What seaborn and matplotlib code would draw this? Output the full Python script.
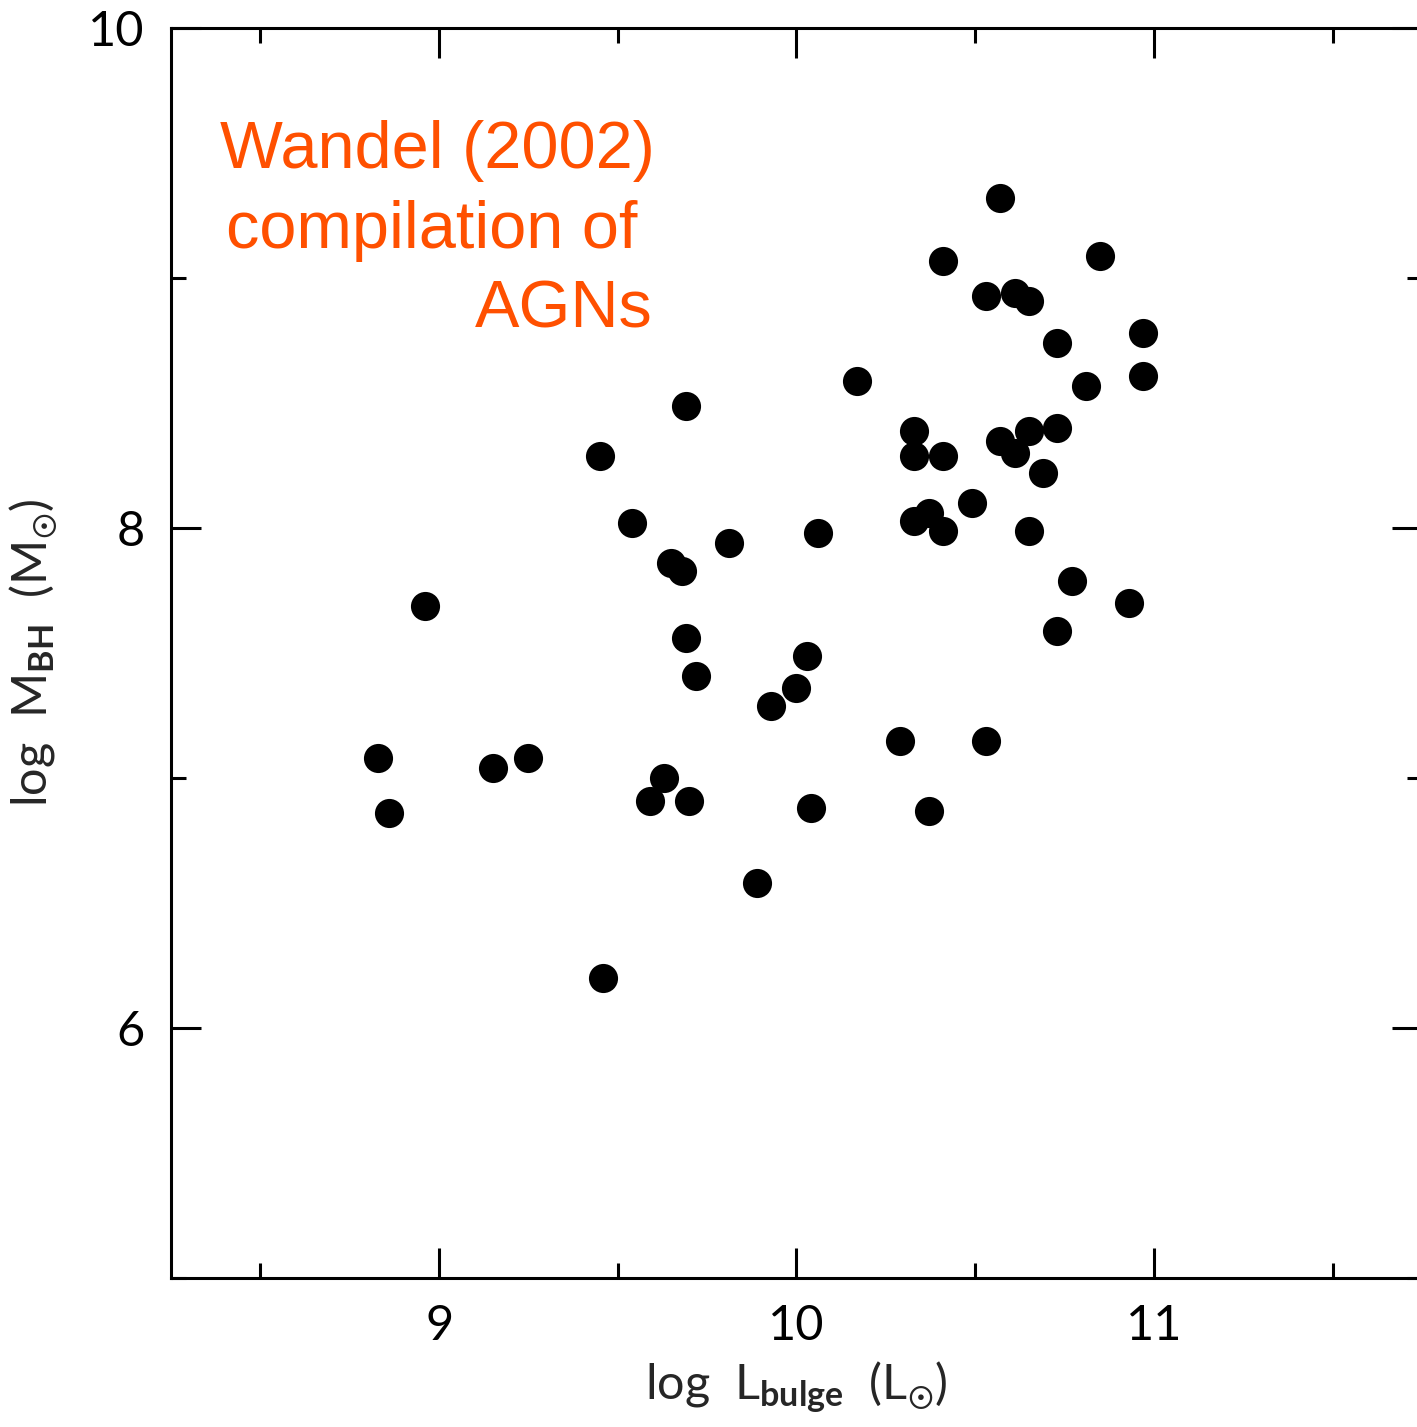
import matplotlib
matplotlib.use("Agg")
import matplotlib.pyplot as plt
from matplotlib.ticker import MultipleLocator
import seaborn as sns
import pandas as pd

log_L_bulge = [10.57, 10.41, 10.85, 10.53, 10.61, 10.65, 10.97, 10.73, 10.17, 10.81,
               10.97, 9.69, 9.45, 10.33, 10.33, 10.41, 10.57, 10.65, 10.73, 10.61,
               10.69, 10.49, 9.54, 10.33, 10.37, 10.41, 10.65, 10.06, 9.81, 9.65,
               9.68, 8.96, 10.77, 10.93, 10.73, 9.69, 10.03, 9.72, 10.00, 9.93,
               10.29, 10.53, 8.83, 9.25, 9.15, 9.63, 9.59, 9.70, 8.86, 10.04,
               10.37, 9.89, 9.46]
log_M_BH = [9.32, 9.07, 9.09, 8.93, 8.94, 8.91, 8.78, 8.74, 8.59, 8.57,
            8.61, 8.49, 8.29, 8.39, 8.29, 8.29, 8.35, 8.39, 8.40, 8.30,
            8.22, 8.10, 8.02, 8.03, 8.06, 7.99, 7.99, 7.98, 7.94, 7.86,
            7.83, 7.69, 7.79, 7.70, 7.59, 7.56, 7.49, 7.41, 7.36, 7.29,
            7.15, 7.15, 7.08, 7.08, 7.04, 7.00, 6.91, 6.91, 6.86, 6.88,
            6.87, 6.58, 6.20]
x_ticks = [9, 10, 11]
y_ticks = [6, 8, 10]
annotation_lines = ["Wandel (2002)", "compilation of", "AGNs"]

df = pd.DataFrame({"L": log_L_bulge, "M": log_M_BH})

sns.set_style("white")
plt.rcParams["font.family"] = ["Lato", "DejaVu Sans"]
plt.rcParams["font.weight"] = "normal"
plt.rcParams["mathtext.fontset"] = "custom"
plt.rcParams["mathtext.rm"] = "Lato"
plt.rcParams["mathtext.bf"] = "Lato:bold"
plt.rcParams["mathtext.default"] = "regular"

W, H = 1417, 1427
fig = plt.figure(figsize=(W / 100, H / 100), dpi=100)
left_px, right_px, top_px, bot_px = 171, 1422, 28, 1278
ax = fig.add_axes([left_px / W, 1 - bot_px / H, (right_px - left_px) / W, (bot_px - top_px) / H])

sns.scatterplot(data=df, x="L", y="M", color="black", s=440, linewidth=0, ax=ax, legend=False, clip_on=False)

ax.set_xlim(8.25, 11.75)
ax.set_ylim(5, 10)
ax.set_xticks(x_ticks)
ax.set_yticks(y_ticks)
ax.xaxis.set_minor_locator(MultipleLocator(0.5))
ax.yaxis.set_minor_locator(MultipleLocator(1))
ax.set_xticklabels([str(v) for v in x_ticks])
ax.set_yticklabels([str(v) for v in y_ticks])

lw = 2.2
for s in ax.spines.values():
    s.set_visible(True)
    s.set_linewidth(lw)
    s.set_color("black")
ax.tick_params(which="both", direction="in", top=True, right=True, bottom=True, left=True,
               width=lw, color="black")
ax.tick_params(which="major", length=21.5, pad=19, labelsize=35, labelcolor="black")
ax.tick_params(which="minor", length=11)

ax.set_xlabel(r"log  L$_{\mathbf{bulge}}$  (L$_{☉}$)", fontsize=35, labelpad=8)
ax.set_ylabel(r"log  M$_{\mathbf{BH}}$  (M$_{☉}$)", fontsize=35, labelpad=20)

orange = "#FF5000"
baselines = [168, 248, 327]
right_edges = [655, 637, 653]
for line, b, r in zip(annotation_lines, baselines, right_edges):
    fig.text(r / W, 1 - b / H, line, color=orange, fontsize=48, fontweight="normal",
             family=["Liberation Sans", "DejaVu Sans"], ha="right", va="baseline")

fig.savefig("out.png", dpi=100)
